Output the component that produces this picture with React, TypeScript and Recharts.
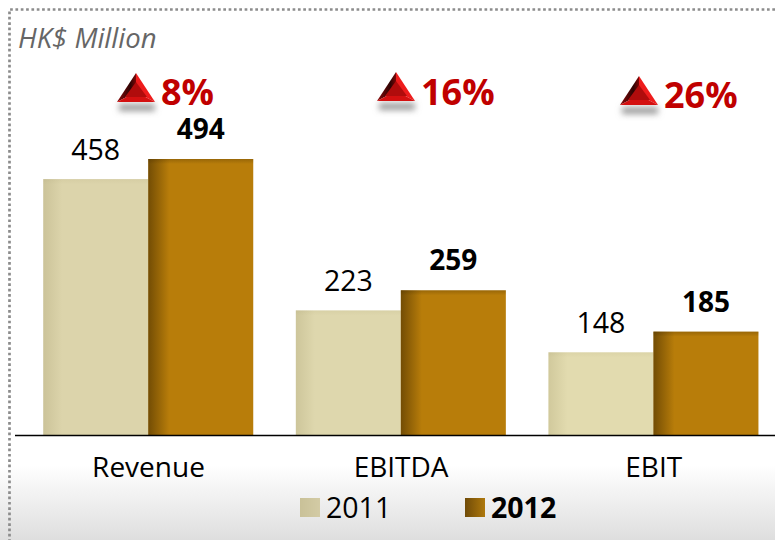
import { BarChart, Bar, XAxis, YAxis, Cell, LabelList, Legend } from 'recharts';

const categories = ['Revenue', 'EBITDA', 'EBIT'];
const values2011 = [458, 223, 148];
const values2012 = [494, 259, 185];
const changes = ['8%', '16%', '26%'];
const fills2011 = ['#dcd4ab', '#ded7ad', '#e2dbaf'];

const data = categories.map((name, i) => ({ name, y2011: values2011[i], y2012: values2012[i] }));

const FONT = '"Open Sans", sans-serif';

const ShadedBar = (shade: string) => (props: any) => {
  const { x, y, width, height, fill } = props;
  return (
    <g>
      <rect x={x} y={y} width={width} height={height} fill={fill} />
      <rect x={x} y={y} width={width} height={height} fill={`url(#left${shade})`} />
      <rect x={x} y={y} width={width} height={5} fill={`url(#top${shade})`} />
    </g>
  );
};

function Arrow({ x, y, text, textX, textY }: { x: number; y: number; text: string; textX: number; textY: number }) {
  const l = x - 19;
  const r = x + 19;
  const b = y + 29;
  const c = y + 19;
  return (
    <g>
      <rect x={l + 2} y={b + 2} width={36} height={7} fill="#9a9a9a" filter="url(#blur)" />
      <polygon points={`${x},${y} ${l},${b} ${x},${c}`} fill="url(#facetLeft)" />
      <polygon points={`${x},${y} ${r},${b} ${x},${c}`} fill="#ee1c1c" />
      <polygon points={`${l},${b} ${r},${b} ${x},${c}`} fill="#d41010" />
      <polygon points={`${x},${y + 9} ${x - 11},${b - 5} ${x + 11},${b - 5}`} fill="#b00c0c" />
      <text x={textX} y={textY} fontFamily={FONT} fontWeight={700} fontSize={36} fill="#c00000">
        {text}
      </text>
    </g>
  );
}

function LegendContent() {
  const swatch = (left: number, bg: string) => (
    <div style={{ position: 'absolute', left, top: 498, width: 20, height: 19, background: bg }} />
  );
  const label = (left: number, text: string, weight: number) => (
    <div style={{ position: 'absolute', left, top: 488, fontFamily: FONT, fontSize: 28.5, lineHeight: '38px', fontWeight: weight, color: '#000' }}>
      {text}
    </div>
  );
  return (
    <div>
      {swatch(300, 'linear-gradient(90deg,#c9c198,#d3cba5)')}
      {label(326, '2011', 400)}
      {swatch(465, 'linear-gradient(90deg,#704b08,#ae780c)')}
      {label(491, '2012', 700)}
    </div>
  );
}

export default function App() {
  return (
    <div style={{ position: 'absolute', left: 0, top: 0, width: 775, height: 540, overflow: 'hidden', background: '#fff' }}>
      <svg width={775} height={540} style={{ position: 'absolute', left: 0, top: 0 }}>
        <defs>
          <linearGradient id="foot" x1="0" y1="0" x2="0" y2="1">
            <stop offset="0" stopColor="#ffffff" />
            <stop offset="1" stopColor="#dedede" />
          </linearGradient>
        </defs>
        <rect x={0} y={465} width={775} height={75} fill="url(#foot)" />
        <path d="M775 9.5H9.5V540" fill="none" stroke="#8c8c8c" strokeWidth={2.7} strokeDasharray="2.7 2.63" />
      </svg>
      <div style={{ position: 'absolute', left: 0, top: 0 }}>
        <BarChart
          width={775}
          height={540}
          data={data}
          margin={{ top: 4.8, right: -5, bottom: 75, left: 22.2 }}
          barCategoryGap="8.33%"
          barGap={0}
        >
          <defs>
            <linearGradient id="leftLight" x1="0" y1="0" x2="1" y2="0">
              <stop offset="0" stopColor="#8a8050" stopOpacity={0.2} />
              <stop offset="0.18" stopColor="#8a8050" stopOpacity={0} />
            </linearGradient>
            <linearGradient id="topLight" x1="0" y1="0" x2="0" y2="1">
              <stop offset="0" stopColor="#8a8050" stopOpacity={0.08} />
              <stop offset="1" stopColor="#8a8050" stopOpacity={0} />
            </linearGradient>
            <linearGradient id="leftDark" x1="0" y1="0" x2="1" y2="0">
              <stop offset="0" stopColor="#3a2500" stopOpacity={0.55} />
              <stop offset="0.2" stopColor="#3a2500" stopOpacity={0} />
            </linearGradient>
            <linearGradient id="topDark" x1="0" y1="0" x2="0" y2="1">
              <stop offset="0" stopColor="#3a2500" stopOpacity={0.25} />
              <stop offset="1" stopColor="#3a2500" stopOpacity={0} />
            </linearGradient>
          </defs>
          <XAxis
            dataKey="name"
            axisLine={false}
            tickLine={false}
            height={30}
            tick={{ fontFamily: FONT, fontSize: 28, fill: '#000' }}
            tickMargin={16}
            interval={0}
          />
          <YAxis hide domain={[0, 770]} />
          <Legend content={<LegendContent />} wrapperStyle={{ position: 'absolute', left: 0, top: 0, width: 0, height: 0 }} />
          <Bar dataKey="y2011" name="2011" fill="#dcd4ab" shape={ShadedBar('Light')} isAnimationActive={false}>
            {fills2011.map((c, i) => (
              <Cell key={i} fill={c} />
            ))}
            <LabelList dataKey="y2011" position="top" offset={19} style={{ fontFamily: FONT, fontSize: 28.5, fill: '#000' }} />
          </Bar>
          <Bar dataKey="y2012" name="2012" fill="#b87d0a" shape={ShadedBar('Dark')} isAnimationActive={false}>
            <LabelList dataKey="y2012" position="top" offset={20} style={{ fontFamily: FONT, fontSize: 28, fontWeight: 700, fill: '#000' }} />
          </Bar>
        </BarChart>
      </div>
      <svg width={775} height={540} style={{ position: 'absolute', left: 0, top: 0, pointerEvents: 'none' }}>
        <defs>
          <filter id="blur" x="-30%" y="-100%" width="160%" height="300%">
            <feGaussianBlur stdDeviation="3" />
          </filter>
          <linearGradient id="facetLeft" x1="0" y1="0" x2="1" y2="0">
            <stop offset="0" stopColor="#8a0808" />
            <stop offset="0.7" stopColor="#2e0404" />
            <stop offset="1" stopColor="#7a0606" />
          </linearGradient>
        </defs>
        <line x1={15} x2={775} y1={435.5} y2={435.5} stroke="#000" strokeWidth={1.5} />
        <text x={18} y={48} fontFamily={FONT} fontStyle="italic" fontSize={27.5} fill="#666">
          HK$ Million
        </text>
        <Arrow x={136} y={73} text={changes[0]} textX={161} textY={105} />
        <Arrow x={396} y={72} text={changes[1]} textX={421} textY={105} />
        <Arrow x={639} y={76} text={changes[2]} textX={664} textY={108} />
      </svg>
    </div>
  );
}
